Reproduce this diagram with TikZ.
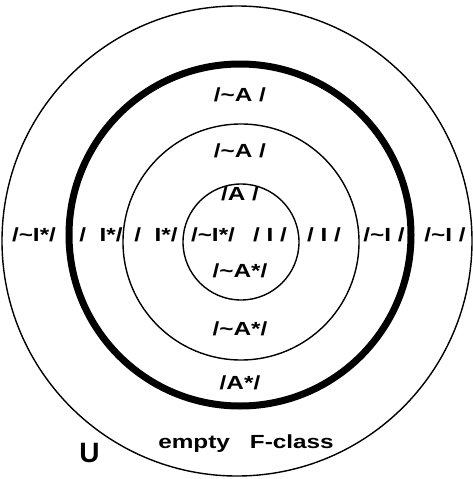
\documentclass[tikz,border=0pt]{standalone}
\usepackage{fontspec}
\setmainfont[FakeStretch=1.28]{Liberation Sans}
\newfontfamily\ufont{Liberation Sans}
\usepackage{tikz}
\usetikzlibrary{calc}
\tikzset{>=latex}
\tikzstyle{lbl} = [font=\fontsize{19}{21}\selectfont\bfseries, inner sep=0pt]
\tikzstyle{ring} = [line width=1.4pt]
\tikzstyle{fring} = [line width=7pt]

\begin{document}
\begin{tikzpicture}[x=1pt,y=-1pt]
            \useasboundingbox (0,0) rectangle (473,479);
            % Draw the universe and the nested classes
            \draw[ring] (237,241) circle (235);
            \draw[fring] (240,235) circle (171);
            \draw[ring] (241,242) circle (118);
            \draw[ring] (241,242) circle (58);

            % top and bottom labels
            \node[lbl] (na1) at (240,95) {/\textasciitilde A /};
            \node[lbl] (na2) at (240,151) {/\textasciitilde A /};
            \node[lbl] (na3) at (240,194) {/A /};
            \node[lbl] (nb3) at (240,271) {/\textasciitilde A*/};
            \node[lbl] (nb2) at (240,329) {/\textasciitilde A*/};
            \node[lbl] (nb1) at (240,383) {/A*/};

            % the middle row
            \node[lbl] (ni1) at (34,235) {/\textasciitilde I*/};
            \node[lbl] (ni2) at (101,235) {/\ \ I*/};
            \node[lbl] (ni3) at (156,235) {/\ \ I*/};
            \node[lbl] (ni4) at (213,235) {/\textasciitilde I*/};
            \node[lbl] (ni5) at (270,235) {/ I /};
            \node[lbl] (ni6) at (324,235) {/ I /};
            \node[lbl] (ni7) at (384,235) {/\textasciitilde I /};
            \node[lbl] (ni8) at (445,235) {/\textasciitilde I /};

            \node[lbl, anchor=base] (empty) at (246,448) {empty\hspace{20pt}F-class};
            \node[lbl, font=\ufont\fontsize{28}{30}\selectfont\bfseries] (univ) at (89.5,453) {U};
        \end{tikzpicture}
\end{document}
